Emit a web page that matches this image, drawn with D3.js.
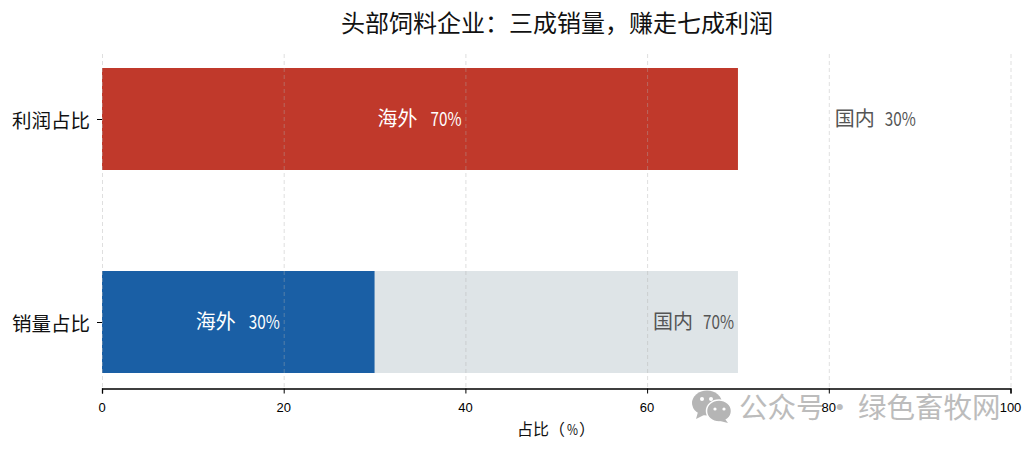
<!DOCTYPE html>
<html><head><meta charset="utf-8">
<style>
html,body{margin:0;padding:0;background:#fff;}
text{font-family:"Noto Sans CJK SC","Noto Sans",sans-serif;}
</style>
<script src="https://cdn.jsdelivr.net/npm/d3@7"></script>
</head><body><svg id="c" width="1033" height="450"></svg>
<script>
const categories = ["利润占比","销量占比"];
const overseas = [70,30];
const domestic = [30,70];
const overseasColors = ["#c0392b","#1a5fa5"];
const domesticColor = "#dee4e7";
const xTicks = [0,20,40,60,80,100];
const titleText = "头部饲料企业：三成销量，赚走七成利润";
const overseasName = "海外";
const domesticName = "国内";

const svg = d3.select("#c");
const x = d3.scaleLinear().domain([0,100]).range([102,1010.5]);
const y = d3.scalePoint().domain(categories).range([119,322]);
const bh = 102;

svg.append("text").attr("x",557).attr("y",32).attr("text-anchor","middle")
  .attr("font-size",24).attr("fill","#111").text(titleText);

// domestic bars, overseas drawn over them
svg.selectAll(".dom").data(categories).join("rect").attr("class","dom")
  .attr("x",x(0)).attr("y",c=>y(c)-bh/2)
  .attr("width",(c,i)=>x(domestic[i])-x(0)).attr("height",bh).attr("fill",domesticColor);
svg.selectAll(".ovr").data(categories).join("rect").attr("class","ovr")
  .attr("x",x(0)).attr("y",c=>y(c)-bh/2)
  .attr("width",(c,i)=>x(overseas[i])-x(0)).attr("height",bh)
  .attr("fill",(c,i)=>overseasColors[i]);

// grid
svg.selectAll(".grid").data(xTicks).join("line").attr("class","grid")
  .attr("x1",d=>x(d)+.5).attr("x2",d=>x(d)+.5).attr("y1",54).attr("y2",389)
  .attr("stroke","#b0b0b0").attr("stroke-opacity",.4).attr("stroke-width",1)
  .attr("stroke-dasharray","4 3");

// watermark
const wm = svg.append("g").attr("fill","#b5b5b5");
wm.append("ellipse").attr("cx",707).attr("cy",403).attr("rx",15).attr("ry",12.5);
wm.append("path").attr("d","M698 412 L696 419 L704 415 Z");
wm.append("ellipse").attr("cx",719).attr("cy",411).attr("rx",12.5).attr("ry",11).attr("stroke","#fff").attr("stroke-width",1.5);
wm.append("path").attr("d","M725 419 L728 423 L720 421 Z");
[[702,399,2],[711,399,2],[715,409,1.6],[724,409,1.6]].forEach(d=>{
  svg.append("circle").attr("cx",d[0]).attr("cy",d[1]).attr("r",d[2]).attr("fill","#fff");
});
const wt = svg.append("text").attr("x",739).attr("y",418).attr("font-size",28.5).attr("fill","#bcbcbc");
wt.append("tspan").text("公众号");
wt.append("tspan").text("·").attr("dx",1);
wt.append("tspan").text("绿色畜牧网").attr("x",858);

// axes
const xAxis = d3.axisBottom(x).tickValues(xTicks).tickSize(5).tickPadding(9).tickFormat(d3.format("d"));
const gx = svg.append("g").attr("transform","translate(0,388.5)").call(xAxis);
gx.select(".domain").attr("stroke","#000").attr("stroke-width",1.3);
gx.selectAll("line").attr("stroke","#000");
gx.selectAll("text").attr("font-size",13).attr("fill","#000").attr("dx",-0.5).style("font-family",'"Liberation Sans",sans-serif');

const yAxis = d3.axisLeft(y).tickSize(5).tickPadding(7);
const gy = svg.append("g").attr("transform","translate(102,0)").call(yAxis);
gy.select(".domain").remove();
gy.selectAll("line").attr("stroke","#000");
gy.selectAll("text").attr("font-size",19.5).attr("fill","#111").attr("dy","0.42em").style("font-family",'"Noto Sans CJK SC"');

// axis title, with its percent sign condensed
const xlabelY = 435;
svg.append("text").attr("x",517).attr("y",xlabelY).attr("font-size",16).attr("fill","#111").text("占比（");
svg.append("text").attr("x",567).attr("y",xlabelY).attr("font-size",14).attr("fill","#111")
  .attr("textLength",11).attr("lengthAdjust","spacingAndGlyphs").text("%");
svg.append("text").attr("x",579).attr("y",xlabelY).attr("font-size",16).attr("fill","#111").text("）");

// value labels: CJK name, then condensed value
function label(cx,cy,name,val,color,nameOffset){
  svg.append("text").attr("x",cx+nameOffset).attr("y",cy).attr("font-size",20).attr("fill",color).text(name);
  svg.append("text").attr("x",cx+10.5).attr("y",cy).attr("font-size",19).attr("fill",color)
    .attr("textLength",31).attr("lengthAdjust","spacingAndGlyphs").text(val+"%");
}
categories.forEach((c,i)=>{
  label(x(overseas[i]/2),y(c)+7,overseasName,overseas[i],"#fff",-42.5);
  label(x(overseas[i]+domestic[i]/2),y(c)+7,domesticName,domestic[i],"#555",-39.5);
});
</script></body></html>
